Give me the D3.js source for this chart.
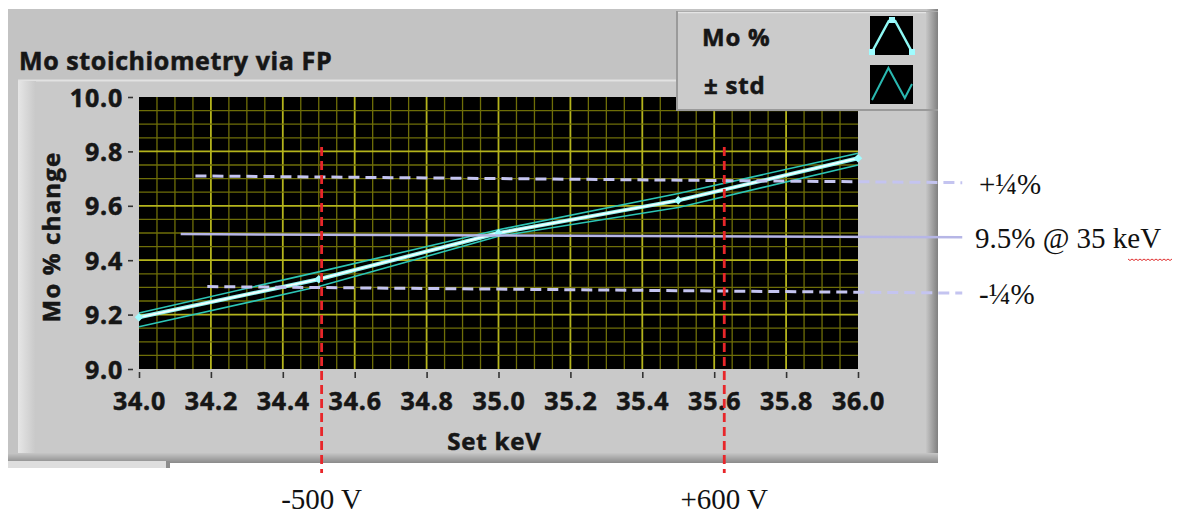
<!DOCTYPE html>
<html>
<head>
<meta charset="utf-8">
<script src="https://cdn.jsdelivr.net/npm/d3@7/dist/d3.min.js"></script>
<style>
  html, body { margin: 0; padding: 0; background: #ffffff; }
  svg { display: block; }
  .lv { font-family: "Open Sans", "Noto Sans", sans-serif; font-weight: 700; fill: #161616; stroke: #161616; stroke-width: 0.55px; }
  .serif { font-family: "Liberation Serif", "Times New Roman", serif; fill: #111; }
</style>
</head>
<body>
<svg id="chart" width="1184" height="515"></svg>
<script>
// ---------------- data ----------------
const keV       = [34.0, 34.5, 35.0, 35.5, 36.0];
const moPct     = [9.19, 9.33, 9.50, 9.62, 9.775];
const stdUpper  = [9.206, 9.357, 9.512, 9.645, 9.793];
const stdLower  = [9.155, 9.303, 9.488, 9.594, 9.750];

const xTicks = [34.0, 34.2, 34.4, 34.6, 34.8, 35.0, 35.2, 35.4, 35.6, 35.8, 36.0];
const yTicks = [9.0, 9.2, 9.4, 9.6, 9.8, 10.0];

// overlay reference lines (drawn on top of the graph)
const plusQuarterKeV  = [34.157, 36.29];
const plusQuarterPct  = [9.710, 9.685];
const nominalKeV      = [34.116, 36.29];
const nominalPct      = [9.496, 9.484];
const minusQuarterKeV = [34.19, 36.29];
const minusQuarterPct = [9.303, 9.279];

const biasKeV   = [34.508, 35.628];        // -500 V, +600 V markers
const biasSpan  = [9.816, 8.618];          // vertical extent (Mo % units)
const biasLabels = ["-500 V", "+600 V"];

const annotLabels = ["+\u00BC%", "9.5% @ 35 keV", "-\u00BC%"];
const legendLabels = ["Mo %", "\u00B1 std"];

// ---------------- setup ----------------
const svg = d3.select("#chart");
const x = d3.scaleLinear().domain([34, 36]).range([139, 858]);
const y = d3.scaleLinear().domain([9, 10]).range([369, 97]);

const defs = svg.append("defs");
const gR = defs.append("linearGradient").attr("id", "bevelR").attr("x1", 0).attr("x2", 1).attr("y1", 0).attr("y2", 0);
gR.append("stop").attr("offset", "0%").attr("stop-color", "#c6c6c6");
gR.append("stop").attr("offset", "100%").attr("stop-color", "#808080");
const gL = defs.append("linearGradient").attr("id", "bevelL").attr("x1", 0).attr("x2", 1).attr("y1", 0).attr("y2", 0);
gL.append("stop").attr("offset", "0%").attr("stop-color", "#e6e6e6");
gL.append("stop").attr("offset", "100%").attr("stop-color", "#c8c8c8");
const gB = defs.append("linearGradient").attr("id", "bevelB").attr("x1", 0).attr("x2", 0).attr("y1", 0).attr("y2", 1);
gB.append("stop").attr("offset", "0%").attr("stop-color", "#c6c6c6");
gB.append("stop").attr("offset", "100%").attr("stop-color", "#8a8a8a");

// ---------------- panel ----------------
svg.append("rect").attr("x", 0).attr("y", 0).attr("width", 1184).attr("height", 515).attr("fill", "#fff");
svg.append("rect").attr("x", 8).attr("y", 9).attr("width", 930).attr("height", 454).attr("fill", "#c3c3c3");
svg.append("rect").attr("x", 18).attr("y", 80).attr("width", 912).attr("height", 375).attr("fill", "#c9c9c9");
svg.append("line").attr("x1", 18).attr("x2", 930).attr("y1", 80.5).attr("y2", 80.5).attr("stroke", "#e2e2e2").attr("stroke-width", 2);
svg.append("rect").attr("x", 18).attr("y", 81).attr("width", 18).attr("height", 374).attr("fill", "url(#bevelL)");
svg.append("rect").attr("x", 926).attr("y", 9).attr("width", 12).attr("height", 454).attr("fill", "url(#bevelR)");
svg.append("rect").attr("x", 8).attr("y", 453).attr("width", 930).attr("height", 10).attr("fill", "url(#bevelB)");
// scrollbar remnant at bottom-left
svg.append("rect").attr("x", 8).attr("y", 461).attr("width", 162).attr("height", 7).attr("fill", "#dedede");
svg.append("rect").attr("x", 166).attr("y", 461).attr("width", 4).attr("height", 7).attr("fill", "#8c8c8c");

// title
svg.append("text").attr("class", "lv").attr("x", 19).attr("y", 70)
  .style("font-size", "25px").style("letter-spacing", "0.6px").text("Mo stoichiometry via FP");

// ---------------- plot area ----------------
svg.append("rect").attr("x", x(34)).attr("y", y(10))
  .attr("width", x(36) - x(34)).attr("height", y(9) - y(10)).attr("fill", "#000");

const gridX = d3.range(1, 40).map(i => 34 + i * 0.05);
const gridY = d3.range(1, 20).map(i => 9 + i * 0.05);
const isMajor = v => Math.abs(v * 5 - Math.round(v * 5)) < 1e-6;

const grid = svg.append("g");
grid.selectAll(".gx").data(gridX).join("line")
  .attr("x1", d => x(d)).attr("x2", d => x(d)).attr("y1", y(10)).attr("y2", y(9))
  .attr("stroke", d => isMajor(d) ? "#b4b41c" : "#6e6e08")
  .attr("stroke-width", d => isMajor(d) ? 1.8 : 1.3);
grid.selectAll(".gy").data(gridY).join("line")
  .attr("y1", d => y(d)).attr("y2", d => y(d)).attr("x1", x(34)).attr("x2", x(36))
  .attr("stroke", d => isMajor(d) ? "#b4b41c" : "#6e6e08")
  .attr("stroke-width", d => isMajor(d) ? 1.8 : 1.3);

// data lines
const line = d3.line().x(d => x(d[0])).y(d => y(d[1]));
const upper = keV.map((k, i) => [k, stdUpper[i]]);
const lower = keV.map((k, i) => [k, stdLower[i]]);
const main  = keV.map((k, i) => [k, moPct[i]]);

[upper, lower].forEach(s => {
  svg.append("path").datum(s).attr("d", line).attr("fill", "none")
    .attr("stroke", "#2cc6b6").attr("stroke-width", 1.6);
});
svg.append("path").datum(main).attr("d", line).attr("fill", "none")
  .attr("stroke", "#8ef4f0").attr("stroke-width", 4);
svg.append("path").datum(main).attr("d", line).attr("fill", "none")
  .attr("stroke", "#f4ffff").attr("stroke-width", 1.8);
svg.selectAll(".pt").data(main).join("rect")
  .attr("x", d => x(d[0]) - 3).attr("y", d => y(d[1]) - 3)
  .attr("width", 6).attr("height", 6)
  .attr("transform", d => `rotate(45 ${x(d[0])} ${y(d[1])})`)
  .attr("fill", "#9ffcff");

// ---------------- axes ----------------
const yAxis = svg.append("g").attr("transform", `translate(${x(34) - 6},0)`)
  .call(d3.axisLeft(y).tickValues(yTicks).tickFormat(d3.format(".1f")).tickSize(5).tickPadding(5));
const xAxis = svg.append("g").attr("transform", `translate(0,${y(9) + 3})`)
  .call(d3.axisBottom(x).tickValues(xTicks).tickFormat(d3.format(".1f")).tickSize(6).tickPadding(4));
[yAxis, xAxis].forEach(a => {
  a.select(".domain").remove();
  a.selectAll(".tick line").attr("stroke", "#333").attr("stroke-width", 1.6);
  a.selectAll(".tick text").attr("class", "lv").style("font-size", "25px")
    .style("letter-spacing", "0.8px");
});
yAxis.selectAll(".tick text").attr("dy", "0.36em");
xAxis.selectAll(".tick text").attr("y", 38).attr("dy", 0);

svg.append("text").attr("class", "lv").attr("text-anchor", "middle")
  .attr("x", (x(34) + x(36)) / 2 - 4).attr("y", 450).style("font-size", "24px").style("letter-spacing", "0.8px")
  .text("Set keV");
svg.append("text").attr("class", "lv").attr("text-anchor", "middle")
  .attr("transform", `translate(60,${(y(9) + y(10)) / 2 + 4}) rotate(-90)`)
  .style("font-size", "24px").style("letter-spacing", "1.2px")
  .text("Mo % change");

// ---------------- legend (covers top-right of the plot) ----------------
const lg = svg.append("g");
lg.append("rect").attr("x", 676).attr("y", 11).attr("width", 262).attr("height", 100).attr("fill", "#9a9a9a");
lg.append("rect").attr("x", 678).attr("y", 12).attr("width", 260).attr("height", 97).attr("fill", "#cbcbcb");
lg.append("line").attr("x1", 678).attr("x2", 938).attr("y1", 12.5).attr("y2", 12.5).attr("stroke", "#e4e4e4").attr("stroke-width", 1.5);
lg.append("rect").attr("x", 926).attr("y", 12).attr("width", 12).attr("height", 97).attr("fill", "url(#bevelR)");
legendLabels.forEach((t, i) => {
  lg.append("text").attr("class", "lv").attr("x", 702 + i * 2).attr("y", 46 + i * 48)
    .style("font-size", "24px").style("letter-spacing", "0.8px").text(t);
  lg.append("rect").attr("x", 870).attr("y", 16 + i * 49).attr("width", 43).attr("height", 39).attr("fill", "#000");
});
// legend samples (icon-local coordinates)
const ix = d3.scaleLinear().domain([0, 1]).range([872, 912]);
const iy0 = d3.scaleLinear().domain([0, 1]).range([52, 20]);
const iy1 = d3.scaleLinear().domain([0, 1]).range([100, 68]);
const iconMain = [[0, 0], [0.42, 0.97], [0.58, 0.97], [1, 0]];
const iconStd  = [[0, 0], [0.41, 1], [0.82, 0.06], [1, 0.5]];
lg.append("path").datum(iconMain)
  .attr("d", d3.line().x(d => ix(d[0])).y(d => iy0(d[1])))
  .attr("fill", "none").attr("stroke", "#8ef8f4").attr("stroke-width", 2.5);
lg.selectAll(".im").data([iconMain[0], [0.5, 1], iconMain[3]]).join("rect")
  .attr("x", d => ix(d[0]) - 3).attr("y", d => iy0(d[1]) - 3).attr("width", 6).attr("height", 6).attr("fill", "#9ffcff");
lg.append("path").datum(iconStd)
  .attr("d", d3.line().x(d => ix(d[0])).y(d => iy1(d[1])))
  .attr("fill", "none").attr("stroke", "#2ab8b0").attr("stroke-width", 2);

// ---------------- overlays ----------------
const ref = (ks, ps) => ks.map((k, i) => [k, ps[i]]);
svg.append("path").datum(ref(nominalKeV, nominalPct)).attr("d", line).attr("fill", "none")
  .attr("stroke", "#b6b6e6").attr("stroke-width", 2.5);
[ref(plusQuarterKeV, plusQuarterPct), ref(minusQuarterKeV, minusQuarterPct)].forEach(s => {
  svg.append("path").datum(s).attr("d", line).attr("fill", "none")
    .attr("stroke", "#c4c4f0").attr("stroke-width", 3).attr("stroke-dasharray", "11,6");
});
biasKeV.forEach((k, i) => {
  svg.append("line").attr("x1", x(k)).attr("x2", x(k)).attr("y1", y(biasSpan[0])).attr("y2", y(biasSpan[1]))
    .attr("stroke", "#e8262a").attr("stroke-width", 2.8).attr("stroke-dasharray", "9,5");
  svg.append("text").attr("class", "serif").attr("text-anchor", "middle")
    .attr("x", x(k)).attr("y", 509).style("font-size", "29px").text(biasLabels[i]);
});

// right-hand annotations, aligned with their reference lines
const annotY = [plusQuarterPct[1], nominalPct[1], minusQuarterPct[1]];
annotLabels.forEach((t, i) => {
  svg.append("text").attr("class", "serif").attr("x", i === 1 ? 975 : 979)
    .attr("y", y(annotY[i]) + 11).style("font-size", "29px").text(t);
});
// spell-check squiggle under "keV"
const sq = d3.range(0, 23).map(i => [1128 + i * 2, 259 + (i % 2) * 1.5]);
svg.append("path").datum(sq).attr("d", d3.line()).attr("fill", "none")
  .attr("stroke", "#e03030").attr("stroke-width", 1);
</script>
</body>
</html>
